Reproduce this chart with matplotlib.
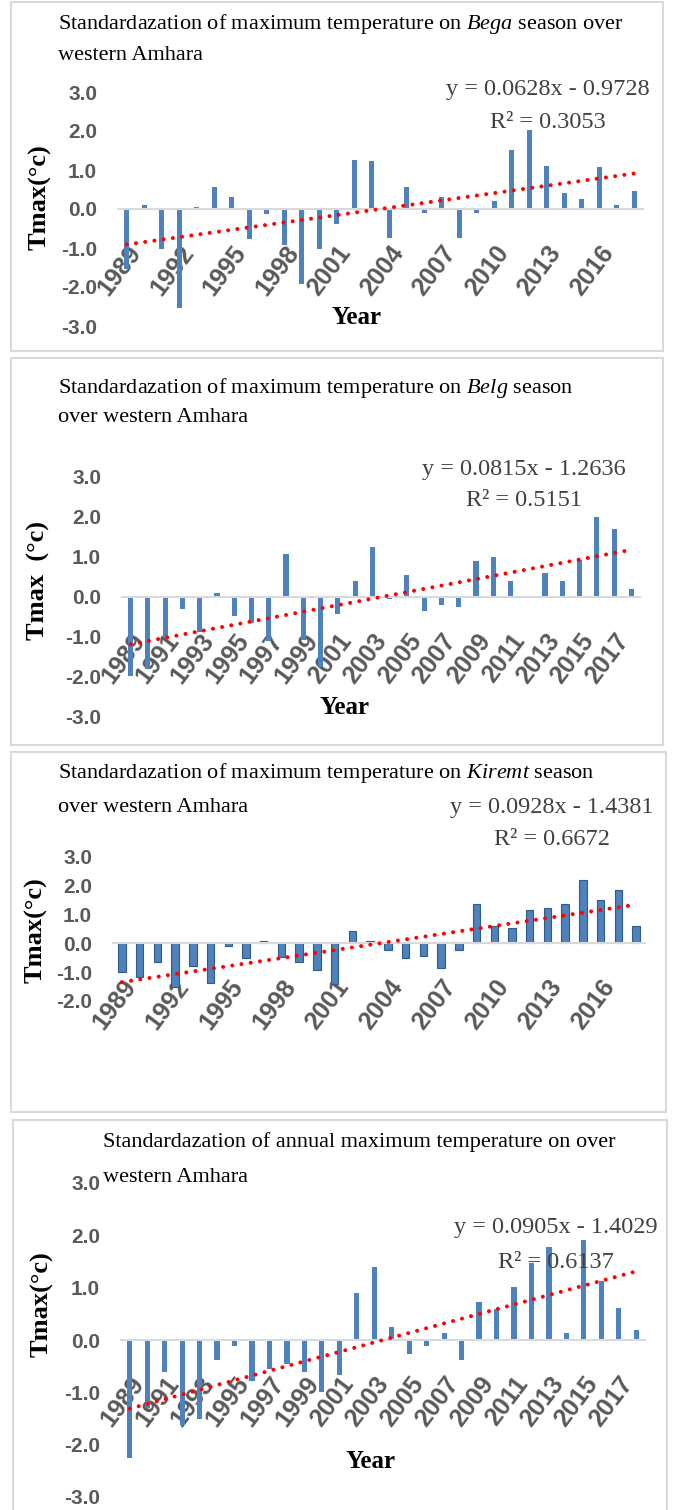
import numpy as np
import matplotlib
matplotlib.use('Agg')
import matplotlib.pyplot as plt
from matplotlib.patches import Rectangle

plt.rcParams['mathtext.fontset'] = 'custom'
plt.rcParams['mathtext.rm'] = 'Liberation Serif'
plt.rcParams['mathtext.it'] = 'Liberation Serif:italic'

# Data: standardized Tmax anomalies 1989-2018
years = list(range(1989, 2019))

bega = [-1.54, 0.11, -1.03, -2.54, 0.06, 0.57, 0.31, -0.78, -0.13, -0.93,
        -1.93, -1.03, -0.38, 1.26, 1.22, -0.74, 0.57, -0.09, 0.31, -0.74,
        -0.09, 0.20, 1.52, 2.03, 1.11, 0.40, 0.26, 1.07, 0.11, 0.46]
belg = [-1.98, -1.80, -1.00, -0.30, -0.87, 0.10, -0.48, -0.65, -1.10, 1.07,
        -1.07, -1.76, -0.42, 0.41, 1.25, -0.06, 0.55, -0.34, -0.21, -0.25,
        0.90, 0.99, 0.41, 0.0, 0.59, 0.41, 0.92, 2.00, 1.69, 0.20]
kiremt = [-1.00, -1.17, -0.64, -1.50, -0.80, -1.36, -0.09, -0.52, 0.09, -0.48,
          -0.64, -0.92, -1.42, 0.44, 0.09, -0.24, -0.52, -0.44, -0.87, -0.24,
          1.36, 0.60, 0.53, 1.17, 1.22, 1.36, 2.20, 1.51, 1.86, 0.59]
annual = [-2.25, -1.30, -0.62, -1.62, -1.50, -0.38, -0.11, -0.78, -0.55, -0.45,
          -0.62, -1.00, -0.67, 0.89, 1.40, 0.25, -0.27, -0.11, 0.13, -0.38,
          0.73, 0.59, 1.01, 1.48, 1.77, 0.13, 1.91, 1.13, 0.61, 0.20]

# trendline coefficients as printed (x = 1..30)
slopes = [0.0628, 0.0815, 0.0928, 0.0905]
intercepts = [-0.9728, -1.2636, -1.4381, -1.4029]
r2 = [0.3053, 0.5151, 0.6672, 0.6137]

W, H = 674, 1510
fig = plt.figure(figsize=(W / 100, H / 100), dpi=100)

def fx(x):
    return x / W

def fy(y):
    return 1 - y / H

serif = 'Liberation Serif'
sans = 'Liberation Sans'
tick_col = '#595959'
bar_col = '#4F81BD'

# panel frames (pixels: x0, y0, x1, y1)
frames = [(11, 2, 663, 351), (11, 358, 663, 745), (11, 752, 666, 1112), (13, 1120, 667, 1512)]
for x0, y0, x1, y1 in frames:
    fig.patches.append(Rectangle((fx(x0), fy(y1)), (x1 - x0) / W, (y1 - y0) / H,
                                 transform=fig.transFigure, fill=False,
                                 edgecolor='#D9D9D9', lw=1.5))

panels = [
    dict(vals=bega, step=3, box=(118, 92, 643, 326), ylim=(-3, 3), bw=0.28, edge=None,
         title=['Standardazation of maximum temperature on $\\mathit{Bega}$ season over', 'western Amhara'],
         tpos=(58, 24, 55), eq=(548, 90, 122), ylab='Tmax(°c)', ylx=(40, 197), year=(357, 317)),
    dict(vals=belg, step=2, box=(122, 477, 640, 717), ylim=(-3, 3), bw=0.3, edge=None,
         title=['Standardazation of maximum temperature on $\\mathit{Belg}$ season', 'over western Amhara'],
         tpos=(58, 388, 418), eq=(524, 469, 500), ylab='Tmax  (°c)', ylx=(38, 580), year=(345, 708)),
    dict(vals=kiremt, step=3, box=(113, 857, 645, 1001), ylim=(-2, 3), bw=0.42, edge='#2E5C8A',
         title=['Standardazation of maximum temperature on $\\mathit{Kiremt}$ season', 'over western Amhara'],
         tpos=(58, 773, 808), eq=(552, 808, 840), ylab='Tmax(°c)', ylx=(36, 930), year=None),
    dict(vals=annual, step=2, box=(121, 1183, 645, 1497), ylim=(-3, 3), bw=0.3, edge=None,
         title=['Standardazation of annual maximum temperature on over', 'western Amhara'],
         tpos=(103, 1142, 1177), eq=(556, 1228, 1263), ylab='Tmax(°c)', ylx=(42, 1304), year=(370, 1462)),
]

x = np.arange(1, len(years) + 1)

for i, p in enumerate(panels):
    x0, yt, x1, yb = p['box']
    ax = fig.add_axes([fx(x0), fy(yb), (x1 - x0) / W, (yb - yt) / H])
    ax.patch.set_alpha(0)
    if p['edge']:
        ax.bar(x, p['vals'], width=p['bw'], color=bar_col, edgecolor=p['edge'], lw=0.8, zorder=2)
    else:
        ax.bar(x, p['vals'], width=p['bw'], color=bar_col, zorder=2)
    trend = slopes[i] * x + intercepts[i]
    ax.plot(x, trend, color='#FF0000', lw=2.9, linestyle=(0, (0.01, 2.3)),
            dash_capstyle='round', zorder=3)
    ax.set_xlim(0.5, len(years) + 0.5)
    ax.set_ylim(*p['ylim'])
    for s in ['top', 'right', 'left']:
        ax.spines[s].set_visible(False)
    ax.spines['bottom'].set_position(('data', 0))
    ax.spines['bottom'].set_color('#D9D9D9')
    ax.spines['bottom'].set_linewidth(1.5)
    ax.tick_params(axis='both', length=0, colors=tick_col, labelsize=15)
    ax.tick_params(axis='y', pad=15)
    ax.tick_params(axis='x', pad=23)

    yt_vals = np.arange(p['ylim'][0], p['ylim'][1] + 0.5, 1.0)
    ax.set_yticks(yt_vals)
    ax.set_yticklabels(['%.1f' % v for v in yt_vals])
    for lab in ax.get_yticklabels():
        lab.set_family(sans)
        lab.set_fontweight('bold')
    idx = np.arange(0, len(years), p['step'])
    ax.set_xticks(x[idx])
    ax.set_xticklabels([str(years[k]) for k in idx])
    for lab in ax.get_xticklabels():
        lab.set_rotation(53)
        lab.set_ha('right')
        lab.set_va('top')
        lab.set_rotation_mode('anchor')
        lab.set_fontsize(18)
        lab.set_family(sans)
        lab.set_fontweight('bold')

    tx, ty1, ty2 = p['tpos']
    fig.text(fx(tx), fy(ty1), p['title'][0], family=serif, fontsize=16, va='center', ha='left')
    fig.text(fx(tx), fy(ty2), p['title'][1], family=serif, fontsize=16, va='center', ha='left')

    ex, ey1, ey2 = p['eq']
    sign = '-' if intercepts[i] < 0 else '+'
    fig.text(fx(ex), fy(ey1), 'y = %.4fx %s %.4f' % (slopes[i], sign, abs(intercepts[i])),
             family=serif, fontsize=17.5, ha='center', va='center', color='#404040')
    fig.text(fx(ex), fy(ey2), 'R² = %.4f' % r2[i],
             family=serif, fontsize=17.5, ha='center', va='center', color='#404040')

    lx, ly = p['ylx']
    fig.text(fx(lx), fy(ly), p['ylab'], family=serif, fontweight='bold', fontsize=19,
             rotation=90, ha='center', va='center')
    if p['year'] is not None:
        fig.text(fx(p['year'][0]), fy(p['year'][1]), 'Year', family=serif,
                 fontweight='bold', fontsize=18, ha='center', va='center')

fig.savefig('out.png', dpi=100)
